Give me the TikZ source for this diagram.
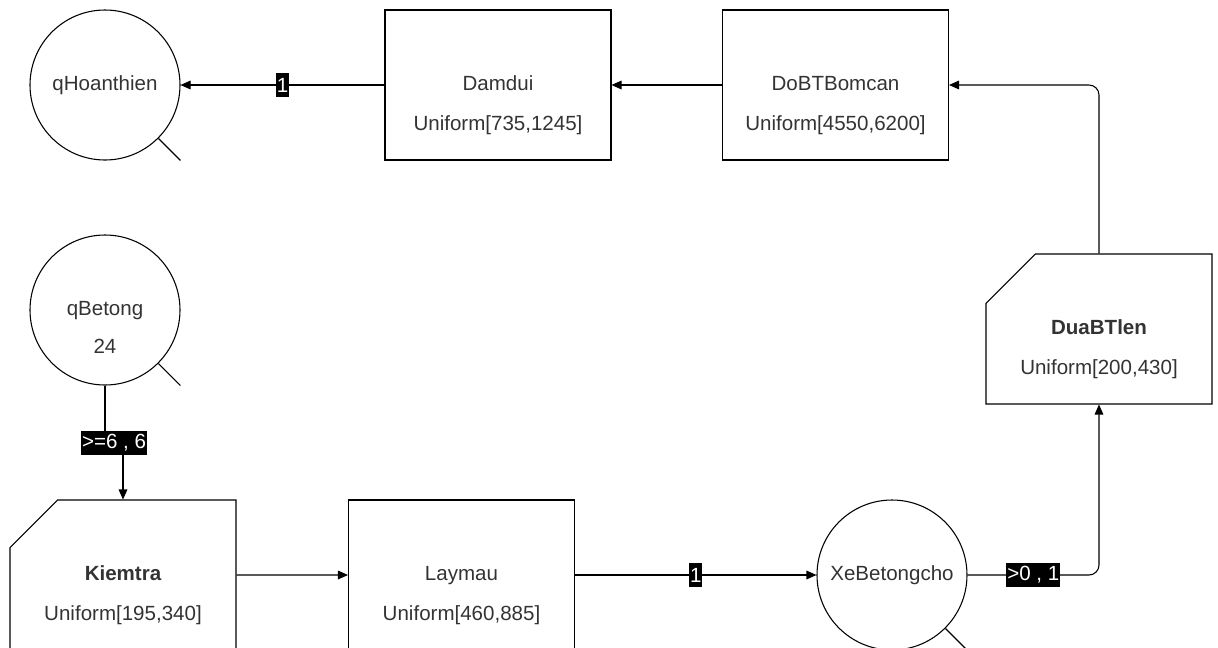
\documentclass[tikz,border=0pt]{standalone}
\usepackage{fontspec}
\setmainfont{Liberation Sans}
\usepackage{tikz}
\usetikzlibrary{positioning}
\usetikzlibrary{calc}
\usetikzlibrary{arrows.meta}
\usetikzlibrary{shapes.misc}

\newcommand{\diafont}{\fontsize{15.4}{18}\selectfont}
\tikzset{
  proc/.style={draw, line width=0.8pt, minimum width=169.5pt, minimum height=112.5pt,
    inner sep=0pt, text=black!80, font=\diafont, text height=11pt, text depth=3pt},
  chproc/.style={proc, chamfered rectangle, chamfered rectangle corners=north west,
    chamfered rectangle xsep=28pt, chamfered rectangle ysep=30pt, font=\diafont\bfseries},
  queue/.style={draw, circle, line width=0.8pt, minimum size=112.5pt, inner sep=0pt,
    text=black!80, font=\diafont, text height=11pt, text depth=3pt},
  dist/.style={inner sep=0pt, text=black!80, font=\diafont},
  lbl/.style={sharp corners, fill=black, text=white, font=\diafont, inner xsep=0.75pt,
    inner ysep=0pt, minimum height=18pt},
  flow/.style={line width=0.8pt, -{Triangle[length=7.5pt,width=6.5pt]}},
  tail/.style={line width=0.8pt}
}

\begin{document}
\begin{tikzpicture}[x=0.75pt,y=0.75pt,yscale=-1,xscale=1]
  \useasboundingbox (0,0) rectangle (1218,647);
  \clip (0,0) rectangle (1218,647);

  % Queues
  \node[queue] (qhoan) at (105,85) {qHoanthien};
  \node[queue] (qbetong) at (105,310) {qBetong};
  \node[dist] (qbetongcap) at ($(qbetong.center)+(0,36)$) {24};
  \node[queue] (xebt) at (892,575) {XeBetongcho};
  \draw[tail] (qhoan.-45) -- ++(22,22);
  \draw[tail] (qbetong.-45) -- ++(22,22);
  \draw[tail] (xebt.-45) -- ++(22,22);

  % Processes
  \node[proc] (damdui) at (498,85) {Damdui};
  \node[dist] (damduid) at ($(damdui.center)+(0,40)$) {Uniform[735,1245]};
  \node[proc] (dobt) at (835.5,85) {DoBTBomcan};
  \node[dist] (dobtd) at ($(dobt.center)+(0,40)$) {Uniform[4550,6200]};
  \node[chproc] (duabt) at (1099,329) {DuaBTlen};
  \node[dist] (duabtd) at ($(duabt.center)+(0,40)$) {Uniform[200,430]};
  \node[chproc] (kiemtra) at (123,575) {Kiemtra};
  \node[dist] (kiemtrad) at ($(kiemtra.center)+(0,40)$) {Uniform[195,340]};
  \node[proc] (laymau) at (461.5,575) {Laymau};
  \node[dist] (laymaud) at ($(laymau.center)+(0,40)$) {Uniform[460,885]};

  % Connectors
  \coordinate (jog) at ($(qbetong.south)!0.5!(kiemtra.north)$);
  \draw[flow] (qbetong.south) |- (jog) -| (kiemtra.north);
  \node[lbl] (l1) at (jog) {>=6 , 6};
  \draw[flow] (kiemtra) -- (laymau);
  \draw[flow] (laymau) -- node[lbl] (l2) {1} (xebt);
  \draw[flow, rounded corners=7.5pt] (xebt.east) -| node[lbl, pos=0.25] (l3) {>0 , 1} (duabt.south);
  \draw[flow, rounded corners=7.5pt] (duabt.north) |- (dobt.east);
  \draw[flow] (dobt) -- (damdui);
  \draw[flow] (damdui) -- node[lbl] (l4) {1} (qhoan);
\end{tikzpicture}
\end{document}
